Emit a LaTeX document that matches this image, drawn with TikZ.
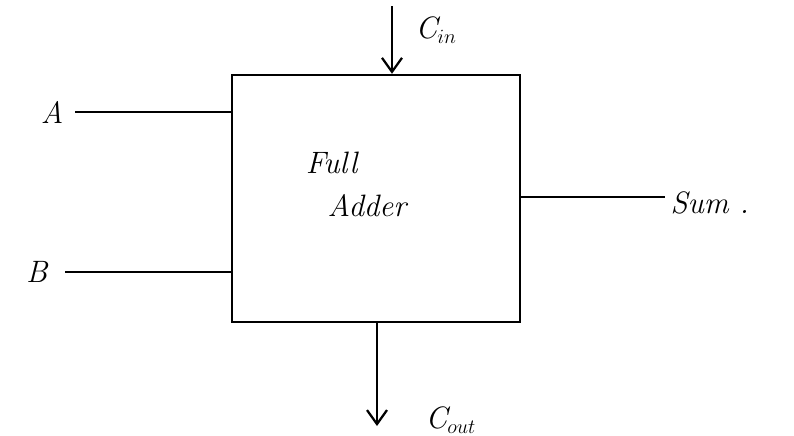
\documentclass[tikz,border=0pt]{standalone}
\usepackage{tikz}
\usetikzlibrary{positioning, arrows.meta, calc}

\begin{document}
\begin{tikzpicture}[
    >={Straight Barb[length=3.5mm, width=5mm, line width=1.6pt]},
    % Styles
    block/.style={
        draw, line width=1.6pt, rectangle,
        minimum width=7.2cm, minimum height=6.175cm
    },
    blocklabel/.style={align=left, font=\fontsize{22}{30}\selectfont\itshape},
    sig/.style={font=\fontsize{22}{26}\selectfont\itshape, inner sep=1pt},
    wire/.style={line width=1.4pt}
  ]
    \useasboundingbox (0,0) rectangle (19.85,-10.875);

    % --- Main block ---
    \node (FA) [block] at (9.4,-4.96) {};
    \node (FA_text) [blocklabel] at (FA.center) [xshift=-0.5cm, yshift=0.35cm] {Full\\\ \ Adder};

    % --- Inputs ---
    \coordinate (a_end) at (1.875,-2.8);
    \coordinate (b_end) at (1.625,-6.8);
    \node (A) [sig, left=0.25cm of a_end] {A};
    \node (B) [sig, left=0.4cm of b_end] {B};
    \draw[wire] (a_end) -- (a_end -| FA.west);
    \draw[wire] (b_end) -- (b_end -| FA.west);

    % --- Carry in ---
    \coordinate (cin_start) at (9.8,-0.15);
    \node (Cin) [sig, anchor=west] at (10.35,-0.75) {C$_{in}$};
    \draw[wire, ->] (cin_start) -- (cin_start |- FA.north);

    % --- Outputs ---
    \coordinate (sum_end) at (16.625,-4.925);
    \node (Sum) [sig, right=0.1cm of sum_end, yshift=-0.15cm] {Sum .};
    \draw[wire] (sum_end -| FA.east) -- (sum_end);

    \coordinate (cout_end) at (9.425,-10.65);
    \node (Cout) [sig, anchor=west] at (10.6,-10.5) {C$_{out}$};
    \draw[wire, ->] (cout_end |- FA.south) -- (cout_end);

  \end{tikzpicture}
\end{document}
